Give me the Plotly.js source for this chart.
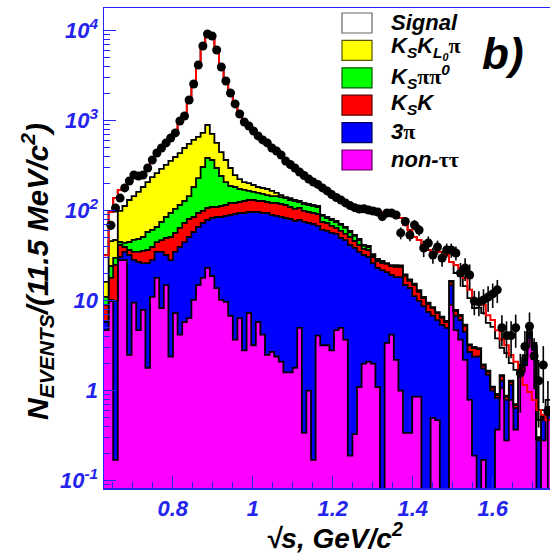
<!DOCTYPE html>
<html>
<head>
<meta charset="utf-8">
<script src="https://cdn.plot.ly/plotly-3.0.1.min.js"></script>
<style>
  html, body { margin: 0; padding: 0; background: #ffffff; overflow: hidden; }
  #chart { width: 570px; height: 555px; }
</style>
</head>
<body>
<div id="chart"></div>
<script>
// Binning: 11.5 MeV bins starting at 0.628 GeV
const binLow = 0.628;
const binWidth = 0.0115;

// Stacked MC components, events per bin (bottom to top)
const nonTauTau = [4.7, 9.9, 0.17, 28.3, 28.3, 2.5, 9.5, 4.7, 7.9, 1.8,
  11.0, 17.9, 8.3, 14.9, 2.4, 7.3, 4.2, 5.8, 6.4, 10.2,
  14.9, 17.9, 23.1, 18.8, 13.8, 10.2, 9.7, 6.8, 3.7, 6.4,
  2.8, 7.3, 3.2, 5.8, 4.2, 2.5, 2.7, 2.4, 2.1, 1.6,
  1.6, 1.8, 5.0, 0.34, 1.0, 0.17, 4.1, 3.2, 3.2, 2.8,
  4.7, 5.0, 3.7, 0.19, 0.33, 1.1, 2.0, 2.1, 2.0, 1.1,
  0, 3.4, 4.2, 2.2, 1.0, 0.34, 0.34, 0.86, 0.86, 0,
  0, 0.5, 0.47, 0, 0, 9.0, 4.7, 3.7, 2.2, 0.79,
  0.19, 0, 0.17, 0, 0, 0.37, 1.07, 0.28, 0.79, 0.37,
  1.49, 1.93, 3.85, 2.83, 0, 0.28, 0.47];

const threePi = [1.1, 0.3, 9.8, 2.3, 6.5, 29.7, 18.9, 22.2, 18.3, 24.4,
  17.3, 16.9, 26.5, 17.3, 25.9, 27.5, 35.3, 39, 44.6, 47.8,
  51, 55.1, 55.7, 64.2, 71.3, 74.9, 77.7, 82.8, 88.2, 87.9,
  91.5, 89.4, 93.5, 90.9, 90.1, 91.8, 86.9, 85, 83, 81.4,
  79.3, 75, 73.8, 74.6, 72, 71, 63.6, 57.9, 56.4, 53.8,
  50.5, 44.7, 43.5, 41.4, 38.2, 33.7, 30.2, 28.5, 24.2, 22,
  21.9, 17.4, 15.1, 16.1, 17.3, 14.6, 13.5, 10.4, 9.1, 8.7,
  7.5, 6.3, 5.6, 5.4, 5.0, 5.9, 2.1, 2.4, 2.3, 1.9,
  2.2, 2.4, 1.6, 1.5, 1.0, 0.46, 0.22, 0.51, 0.37, 0.27,
  0.21, 0.26, 0.31, 0.23, 0.28, 0.19, 0.14];

const ksK = [3.2, 7.7, 15.0, 11.0, 4.7, 4.4, 6.5, 7.9, 9.5, 10.4,
  11.2, 10.0, 12.4, 17.5, 22.7, 21.8, 24.8, 28.2, 29.9, 27.1,
  28.4, 26.3, 28.3, 26.9, 24.8, 27.7, 28.3, 32.2, 29.9, 30.6,
  33.9, 34.8, 34.8, 31.5, 33.9, 30.6, 32.2, 34.4, 33.6, 32.7,
  29, 27.7, 28.3, 24.4, 23.7, 23.1, 24.2, 13.8, 13.4, 11.1,
  9.1, 9.9, 8, 9.4, 7.5, 6.8, 5.4, 6, 4.4, 4.5,
  4.3, 4.8, 5, 5.4, 5.4, 3.9, 2.8, 3.6, 2.6, 2,
  1.7, 1.5, 1.2, 1.1, 0.8, 1.3, 0.9, 0.7, 0.8, 0.5,
  0.6, 0.5, 0.14, 0.13, 0.08, 0.07, 0.16, 0.07, 0.09, 0.05,
  0.09, 0.11, 0.21, 0.08, 0.015, 0.03, 0.03];

const ksPiPi0 = [2.0, 6.4, 4.9, 3.3, 4.3, 8.3, 12.4, 13.7, 15.3, 21.4,
  21.6, 21.1, 27.7, 35.4, 43.3, 47.9, 51.4, 55.2, 64.4, 98.3,
  136.3, 206.6, 278, 256, 188.3, 130, 92.3, 66.4, 61.6, 49.3,
  41.8, 34.3, 30, 29.2, 25.3, 24.1, 23.5, 23.5, 22.9, 22.3,
  21.6, 23.7, 17.8, 19.4, 19, 18.5, 18, 12.5, 10, 11.1,
  10.6, 9.8, 9.1, 7, 6.4, 5.6, 3, 2.9, 1.6, 1.5,
  0.7, 0.6, 0.6, 0.6, 0.3, 0.3, 0.2, 0.2, 0.15, 0,
  0.1, 0, 0, 0, 0, 0, 0, 0, 0, 0,
  0, 0, 0, 0, 0, 0, 0, 0, 0, 0,
  0, 0, 0, 0, 0, 0, 0];

const ksKlPi = [5.2, 21.7, 17.4, 54.4, 69, 86.6, 97.8, 113, 132.4, 150,
  175.5, 196, 216, 237, 262.6, 290.5, 321, 369, 406, 427.6,
  428.7, 424.7, 511, 346.5, 267.6, 205.6, 158, 110, 65.6, 50.6,
  38, 37, 31.5, 26, 25.2, 25.2, 20.5, 12.1, 7.4, 3.6,
  6.5, 3.3, 3.3, 3.1, 3, 2.9, 2.9, 2.2, 2.1, 2.1,
  1.9, 1.8, 1.6, 1.6, 1.3, 1.3, 1, 1.1, 0.8, 0,
  0.7, 0, 0, 0.6, 0.6, 0.5, 0.4, 0.4, 0.4, 0.3,
  0.24, 0.2, 0.2, 0.17, 0.15, 0.4, 0.2, 0.17, 0.13, 0.08,
  0.08, 0.07, 0.05, 0.04, 0.03, 0.02, 0.04, 0.02, 0.04, 0.02,
  0.04, 0.06, 0.11, 0.08, 0.01, 0.02, 0.02];

const signal = [16, 50.7, 91, 70.7, 75, 76.5, 98, 81.5, 72, 90,
  120, 164, 194, 230, 270, 355, 530, 690, 1148, 1945,
  3397, 5695, 7840, 7585, 5229, 3404, 2323, 1680, 1241, 962,
  759, 648, 557, 476, 432, 392, 331.5, 302.8, 267, 215.4,
  188, 166.5, 140.7, 124, 106, 92.3, 80.2, 89.1, 80.7, 72.6,
  64.8, 60.3, 55.9, 56.1, 56.2, 56, 65.5, 61.2, 66.3, 65.2,
  69.1, 68.1, 69.4, 64.7, 58.7, 50.1, 44.1, 35.7, 34.3, 30.6,
  27.2, 26.3, 27.3, 28.2, 26.2, 10.3, 12.4, 11.9, 9.1, 7.4,
  5.2, 5.4, 5.3, 4.0, 4.0, 2.9, 1.5, 1.74, 0.74, 0.99,
  0.1, 0.13, 0.24, 0.17, 0.17, 0.09, 0.13];

// Total MC prediction (red step line)
const totalMC = [32, 97, 138, 170, 188, 208, 243, 243, 256, 298,
  357, 426, 485, 552, 627, 750, 967, 1187, 1700, 2556,
  4056, 6426, 8736, 8297, 5795, 3852, 2689, 1978, 1490, 1187,
  967, 851, 750, 659, 611, 566, 497, 460, 416, 357,
  326, 298, 269, 246, 225, 208, 193, 179, 166, 153.5,
  141.6, 131.5, 122, 115.7, 110, 104.5, 107, 101.8, 99.3, 94.3,
  96.7, 94.3, 94.3, 89.6, 83, 69.4, 61.1, 51, 47.2, 41.6,
  36.6, 34.8, 34.8, 34.8, 32.2, 26.9, 24.9, 23.1, 17.9, 13.2,
  10.2, 10.2, 9.0, 6.9, 6.1, 4.7, 3.7, 3.2, 2.5, 2.1,
  1.7, 1.16, 0.97, 0.79, 0.61, 0.54, 0.47];

// Data: events per bin and their errors
const dataCounts = [null, 69, 107, 138, 179, 214, 249, 243, 249, 298,
  366, 437, 497, 566, 643, 731, 993, 1128, 1700, 2556,
  4160, 6767, 9193, 8736, 6100, 3952, 2759, 2028, 1535, 1187,
  967, 874, 769, 677, 611, 566, 497, 460, 416, 357,
  326, 298, 269, 246, 225, 208, 196, 179, 166, 151,
  140, 131.5, 122, 114, 108, 104.5, 105, 101.8, 99.3, 96.7,
  86, 94.3, 94.3, 89.6, 56.6, 75.8, 53.7, 69.4, 61.1, 38.5,
  43.7, 32.2, 39.5, 29.8, 36.6, 36.6, 33.9, 20.3, 23.1, 19.3,
  9.9, 9.7, 10.2, 11.0, 11.9, 13.2, 5.0, 4.1, 4.1, 5.0,
  1.57, 3.1, 5.2, 2.43, 1.29, 1.93, 0.58];

const dataErrors = [0, 8, 10, 12, 13, 15, 16, 16, 16, 17,
  19, 21, 22, 24, 25, 27, 31, 34, 41, 51,
  65, 82, 96, 93, 78, 63, 53, 45, 39, 34,
  31, 30, 28, 26, 25, 24, 22, 21, 20, 19,
  18, 17, 16, 16, 15, 14, 14, 13, 13, 12,
  12, 11, 11, 11, 10, 10, 10, 10, 10, 10,
  9.5, 9.5, 9.5, 9.5, 8.5, 9, 8, 9, 8.5, 8,
  8, 6.5, 7, 6, 6.5, 6.5, 6, 6, 6.5, 6,
  3, 3, 3.2, 3.5, 3.6, 3.8, 1.9, 1.8, 1.8, 2.0,
  1.0, 1.5, 2.2, 1.4, 0.9, 1.2, 0.7];

// Axis labels
const xTickVals = [0.8, 1.0, 1.2, 1.4, 1.6];
const xTickText = ['0.8', '1', '1.2', '1.4', '1.6'];
const yTickVals = [0.1, 1, 10, 100, 1000, 10000];
const yTickText = ['10<sup>-1</sup>', '1', '10', '10<sup>2</sup>', '10<sup>3</sup>', '10<sup>4</sup>'];

const legendLabels = [
  'Signal',
  'K<sub>S</sub>K<sub>L<sub>0</sub></sub><span style="font-family:\'Liberation Serif\';font-style:normal">π</span>',
  'K<sub>S</sub><span style="font-family:\'Liberation Serif\';font-style:normal">ππ</span><sup>0</sup>',
  'K<sub>S</sub>K',
  '3<span style="font-family:\'Liberation Serif\';font-style:normal">π</span>',
  'non-<span style="font-family:\'Liberation Serif\';font-style:normal">ττ</span>'
];

// ---------------------------------------------------------------
const nBins = nonTauTau.length;
const edges = Array.from({length: nBins + 1}, (_, i) => binLow + i * binWidth);
const centers = Array.from({length: nBins}, (_, i) => binLow + (i + 0.5) * binWidth);
const FLOOR = 1e-3;   // stand-in for empty bins on the log axis
function stepY(vals) {
  const out = vals.map(v => Math.max(v, FLOOR));
  out.push(out[out.length - 1]);
  return out;
}

const layers = [
  {values: nonTauTau, color: '#ff00ff'},
  {values: threePi,   color: '#0000ff'},
  {values: ksK,       color: '#ff0000'},
  {values: ksPiPi0,   color: '#00ff00'},
  {values: ksKlPi,    color: '#ffff00'},
  {values: signal,    color: '#ffffff'}
];

const traces = [];
let cum = new Array(nBins).fill(0);
traces.push({x: edges, y: stepY(cum), mode: 'lines', line: {width: 0, shape: 'hv'},
  hoverinfo: 'skip', showlegend: false});
layers.forEach(layer => {
  cum = cum.map((c, i) => c + layer.values[i]);
  traces.push({
    x: edges, y: stepY(cum), mode: 'lines',
    line: {shape: 'hv', color: '#000000', width: 1.8},
    fill: 'tonexty', fillcolor: layer.color,
    hoverinfo: 'skip', showlegend: false
  });
});

traces.push({
  x: edges, y: stepY(totalMC), mode: 'lines',
  line: {shape: 'hv', color: '#ff0000', width: 2},
  hoverinfo: 'skip', showlegend: false
});

traces.push({
  x: centers, y: dataCounts, mode: 'markers',
  marker: {color: '#000000', size: 9, symbol: 'circle'},
  error_y: {type: 'data', array: dataErrors, color: '#000000', thickness: 1.6, width: 0},
  showlegend: false
});

// Plot-area geometry in pixels (used to place legend and labels)
const W = 570, H = 555;
const M = {l: 104, r: 6, t: 8, b: 67};
const plotW = W - M.l - M.r, plotH = H - M.t - M.b;
const px = x => (x - M.l) / plotW;
const py = y => (H - M.b - y) / plotH;

const axisBlue = '#2424ee';
const tickFont = {family: 'Liberation Sans, Arial, sans-serif', size: 22, color: axisBlue,
  weight: 'bold', style: 'italic'};

const yMinor = [];
for (let d = -2; d <= 4; d++) for (let k = 2; k <= 9; k++) yMinor.push(k * Math.pow(10, d));

const shapes = [];
const annotations = [];
const legendFills = ['#ffffff', '#ffff00', '#00ff00', '#ff0000', '#0000ff', '#ff00ff'];
const legendLines = ['#666666', '#555500', '#005500', '#550000', '#000055', '#550055'];
const legendTextShift = [9, 8, 9, 9, 9, 9];
legendLabels.forEach((label, k) => {
  const top = 13 + 27.4 * k;
  shapes.push({type: 'rect', xref: 'paper', yref: 'paper',
    x0: px(342), x1: px(372), y0: py(top + 20), y1: py(top),
    fillcolor: legendFills[k], line: {color: legendLines[k], width: 1.2}});
  annotations.push({xref: 'paper', yref: 'paper', x: px(389), y: py(top + legendTextShift[k]),
    xanchor: 'left', yanchor: 'middle', showarrow: false, text: label,
    font: {family: 'Liberation Sans, Arial, sans-serif', size: 22, color: '#000000',
      weight: 'bold', style: 'italic'}});
});

annotations.push({xref: 'paper', yref: 'paper', x: px(503), y: py(53),
  xanchor: 'center', yanchor: 'middle', showarrow: false, text: 'b)',
  font: {family: 'Liberation Sans, Arial, sans-serif', size: 44, color: '#000000',
    weight: 'bold', style: 'italic'}});

annotations.push({xref: 'paper', yref: 'paper', x: 0.5, y: py(536),
  xanchor: 'center', yanchor: 'middle', showarrow: false,
  text: '√s, GeV/c<sup>2</sup>',
  font: {family: 'Liberation Sans, Arial, sans-serif', size: 28, color: '#000000',
    weight: 'bold', style: 'italic'}});

annotations.push({xref: 'paper', yref: 'paper', x: px(37), y: py(272),
  xanchor: 'center', yanchor: 'middle', showarrow: false, textangle: -90,
  text: 'N<sub>EVENTS</sub>/(11.5 MeV/c<sup>2</sup>)',
  font: {family: 'Liberation Sans, Arial, sans-serif', size: 30, color: '#000000',
    weight: 'bold', style: 'italic'}});

const layout = {
  width: W, height: H,
  margin: M,
  paper_bgcolor: '#ffffff', plot_bgcolor: '#ffffff',
  showlegend: false,
  xaxis: {
    range: [edges[0], binLow + 100 * binWidth],
    showline: true, linecolor: axisBlue, linewidth: 1.5, mirror: true,
    ticks: 'inside', ticklen: 12, tickwidth: 1, tickcolor: axisBlue,
    tickmode: 'array', tickvals: xTickVals, ticktext: xTickText,
    tickfont: tickFont, showgrid: false, zeroline: false,
    minor: {ticks: 'inside', ticklen: 6, tickcolor: axisBlue, tickwidth: 1,
      tickmode: 'linear', tick0: 0.6, dtick: 0.05, showgrid: false}
  },
  yaxis: {
    type: 'log', range: [-1.081, 4.252],
    showline: true, linecolor: axisBlue, linewidth: 1.5, mirror: true,
    ticks: 'inside', ticklen: 12, tickwidth: 1, tickcolor: axisBlue,
    tickmode: 'array', tickvals: yTickVals, ticktext: yTickText,
    tickfont: tickFont, showgrid: false, zeroline: false,
    minor: {ticks: 'inside', ticklen: 6, tickcolor: axisBlue, tickwidth: 1,
      tickmode: 'array', tickvals: yMinor, showgrid: false}
  },
  shapes: shapes,
  annotations: annotations
};

Plotly.newPlot('chart', traces, layout, {displayModeBar: false, staticPlot: true});
</script>
</body>
</html>
